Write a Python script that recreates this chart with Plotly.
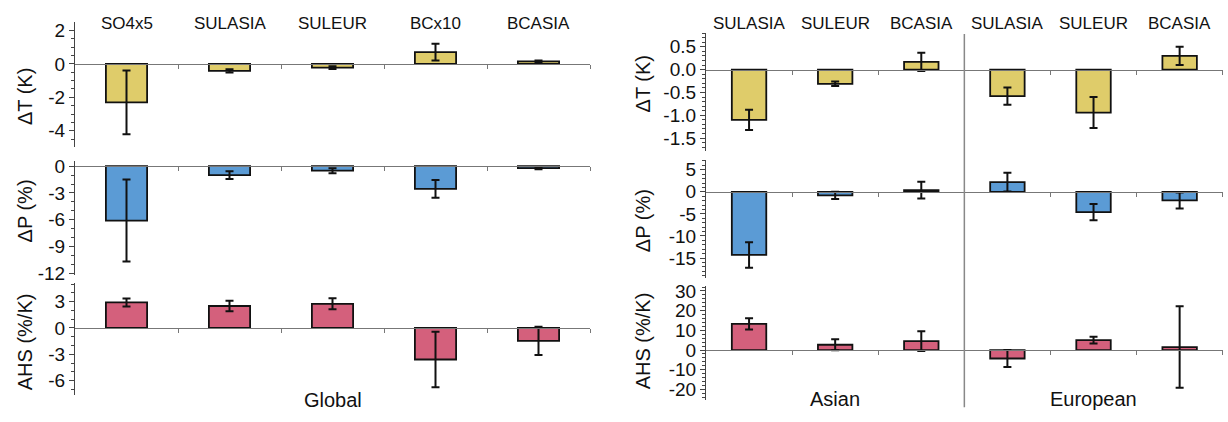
import plotly.graph_objects as go

# ---------------- data ----------------
global_categories = ["SO4x5", "SULASIA", "SULEUR", "BCx10", "BCASIA"]
dT_global = [-2.3, -0.42, -0.22, 0.7, 0.15]
dT_global_err = [1.9, 0.1, 0.08, 0.5, 0.06]
dP_global = [-6.1, -1.0, -0.5, -2.55, -0.22]
dP_global_err = [4.6, 0.43, 0.28, 1.0, 0.12]
ahs_global = [2.9, 2.5, 2.75, -3.6, -1.48]
ahs_global_err = [0.45, 0.6, 0.62, 3.15, 1.6]

regional_categories = ["SULASIA", "SULEUR", "BCASIA", "SULASIA", "SULEUR", "BCASIA"]
region_groups = ["Asian", "European"]
dT_reg = [-1.1, -0.31, 0.17, -0.58, -0.94, 0.3]
dT_reg_err = [0.22, 0.05, 0.2, 0.19, 0.34, 0.2]
dP_reg = [-14.3, -0.8, 0.4, 2.2, -4.6, -1.95]
dP_reg_err = [2.9, 0.8, 1.9, 2.1, 1.85, 1.8]
ahs_reg = [13.3, 2.7, 4.5, -4.3, 5.0, 1.5]
ahs_reg_err = [2.9, 2.75, 5.0, 4.3, 1.7, 20.7]

ticks_dT_global = [2, 0, -2, -4]
ticks_dP_global = [0, -3, -6, -9, -12]
ticks_ahs_global = [3, 0, -3, -6]
ticks_dT_reg = [0.5, 0.0, -0.5, -1.0, -1.5]
ticks_dP_reg = [5, 0, -5, -10, -15]
ticks_ahs_reg = [30, 20, 10, 0, -10, -20]

# ---------------- style ----------------
W, H = 1228, 422
YELLOW = "#DFCC6A"
BLUE = "#5B9BD5"
PINK = "#D4607C"
FONT = "Liberation Sans, Arial, sans-serif"
AXC = "#444444"
ZC = "#777777"


def py(p):
    return 1 - p / H


def pxf(p):
    return p / W


left_dom = [pxf(75), pxf(590)]
right_dom = [pxf(706), pxf(1222.7)]

panels = [
    # (index, xdomain, top px, bottom px, range, ticks, fmt, minor step, values, errors, colour, n)
    (1, left_dom, 18, 146, [-4.94, 2.48], ticks_dT_global, "{:g}", 0.5, dT_global, dT_global_err, YELLOW, 5),
    (2, left_dom, 161, 279, [-12.25, 0.58], ticks_dP_global, "{:g}", 1, dP_global, dP_global_err, BLUE, 5),
    (3, left_dom, 287, 402, [-7.6, 5.1], ticks_ahs_global, "{:g}", 1, ahs_global, ahs_global_err, PINK, 5),
    (4, right_dom, 29, 151, [-1.79, 0.80], ticks_dT_reg, "{:.1f}", 0.1, dT_reg, dT_reg_err, YELLOW, 6),
    (5, right_dom, 160, 282, [-19.6, 7.2], ticks_dP_reg, "{:g}", 1, dP_reg, dP_reg_err, BLUE, 6),
    (6, right_dom, 290, 408, [-25.6, 32.5], ticks_ahs_reg, "{:g}", 2, ahs_reg, ahs_reg_err, PINK, 6),
]

fig = go.Figure()
layout = dict(
    width=W, height=H,
    margin=dict(l=0, r=0, t=0, b=0),
    paper_bgcolor="white", plot_bgcolor="rgba(0,0,0,0)",
    showlegend=False, bargap=0.6,
    font=dict(family=FONT, color="#111111"),
)

for idx, xdom, top, bot, rng, tv, fmt, mstep, vals, errs, col, n in panels:
    xs = "" if idx == 1 else str(idx)
    xpos = list(range(n))
    fig.add_trace(go.Bar(
        x=xpos, y=vals, width=0.4,
        marker=dict(color=col, line=dict(color="#111111", width=1.8)),
        error_y=dict(type="data", array=errs, visible=True, color="#111111", thickness=2, width=4),
        xaxis="x" + xs, yaxis="y" + xs, hoverinfo="skip",
    ))
    ydom = [py(bot), py(top)]
    zero_pos = ydom[0] + (0 - rng[0]) / (rng[1] - rng[0]) * (ydom[1] - ydom[0])
    lo, hi = rng
    minors = []
    k = int(lo / mstep) - 1
    while k * mstep <= hi:
        v = round(k * mstep, 6)
        if lo <= v <= hi:
            minors.append(v)
        k += 1
    layout["xaxis" + xs] = dict(
        domain=xdom, range=[-0.5, n - 0.5], anchor="free", position=zero_pos,
        showline=True, linecolor=ZC, linewidth=1, showgrid=False, zeroline=False,
        tickmode="array", tickvals=[i + 0.5 for i in range(n)], ticks="outside",
        ticklen=4, tickcolor=ZC, showticklabels=False, fixedrange=True,
    )
    layout["yaxis" + xs] = dict(
        domain=ydom, range=rng, anchor="x" + xs,
        showline=True, linecolor=AXC, linewidth=1.2, showgrid=False, zeroline=False,
        tickmode="array", tickvals=tv, ticktext=[fmt.format(v) for v in tv],
        ticks="outside", ticklen=5, tickcolor=AXC, tickwidth=1.2,
        tickfont=dict(size=19, family=FONT, color="#111111"),
        minor=dict(tickmode="array", tickvals=minors, ticks="outside", ticklen=3, tickcolor=AXC),
        fixedrange=True,
    )

annotations = []
for i, c in enumerate(global_categories):
    annotations.append(dict(x=i, y=py(19), xref="x", yref="paper", text=c, showarrow=False,
                            font=dict(size=17, family=FONT, color="#111111"), yanchor="middle"))
for i, c in enumerate(regional_categories):
    annotations.append(dict(x=i, y=py(19), xref="x4", yref="paper", text=c, showarrow=False,
                            font=dict(size=17, family=FONT, color="#111111"), yanchor="middle"))
annotations.append(dict(x=2, y=py(408), xref="x3", yref="paper", text="Global", showarrow=False,
                        font=dict(size=20, family=FONT, color="#111111"), yanchor="middle"))
for g, xc in zip(region_groups, [1, 4]):
    annotations.append(dict(x=xc, y=py(407), xref="x6", yref="paper", text=g, showarrow=False,
                            font=dict(size=20, family=FONT, color="#111111"), yanchor="middle"))
titles = [
    ("ΔT (K)", 25, 95), ("ΔP (%)", 25, 213), ("AHS (%/K)", 25, 348),
    ("ΔT (K)", 643, 82), ("ΔP (%)", 643, 223), ("AHS (%/K)", 643, 347),
]
for t, xp, yp in titles:
    annotations.append(dict(x=pxf(xp), y=py(yp), xref="paper", yref="paper", text=t, textangle=-90,
                            showarrow=False, font=dict(size=20, family=FONT, color="#111111"),
                            xanchor="center", yanchor="middle"))
layout["annotations"] = annotations

layout["shapes"] = [dict(type="line", xref="x4", yref="paper", x0=2.5, x1=2.5, y0=py(415), y1=py(30),
                         line=dict(color="#888888", width=1.5))]

fig.update_layout(**layout)
fig.write_html("out.html", config={"displayModeBar": False},
               post_script="document.body.style.margin='0';document.body.style.padding='0';")
